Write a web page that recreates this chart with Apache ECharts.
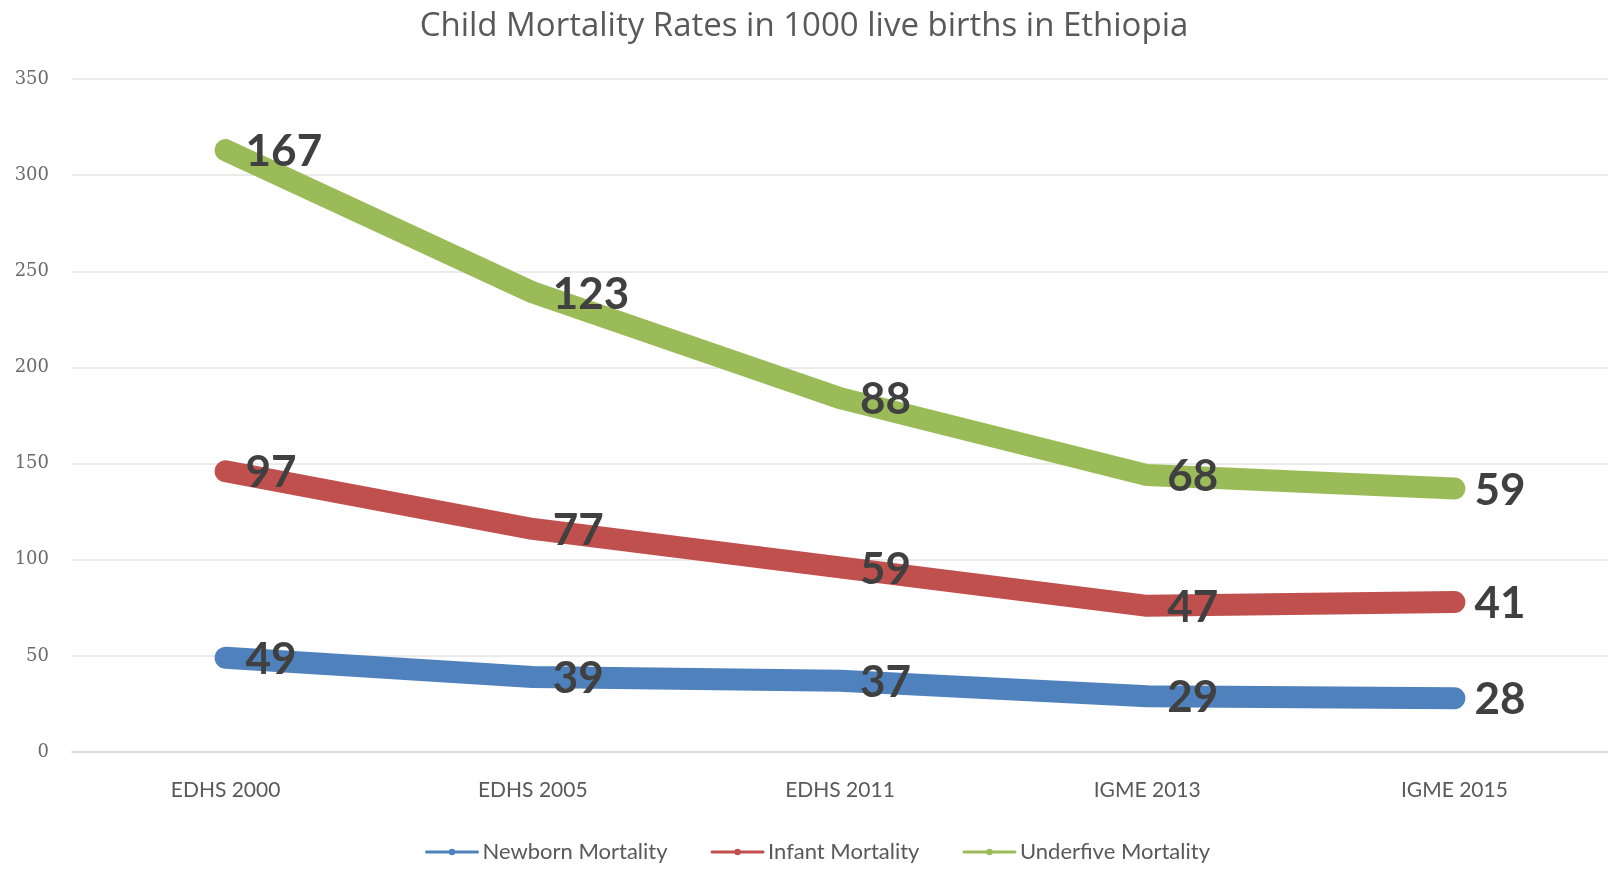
<!DOCTYPE html>
<html>
<head>
<meta charset="utf-8">
<script src="https://cdn.jsdelivr.net/npm/echarts@6/dist/echarts.min.js"></script>
<style>
  html, body { margin: 0; padding: 0; background: #fff; }
  #chart { width: 1608px; height: 869px; }
</style>
</head>
<body>
<div id="chart"></div>
<script>
const categories = ["EDHS 2000", "EDHS 2005", "EDHS 2011", "IGME 2013", "IGME 2015"];
// plotted (stacked) values as drawn in the picture
const newborn = [49, 39, 37, 29, 28];
const infant = [97, 77, 59, 47, 50];
const underfive = [167, 123, 88, 68, 59];
// label texts printed next to the points
const newbornLabels = ["49", "39", "37", "29", "28"];
const infantLabels = ["97", "77", "59", "47", "41"];
const underfiveLabels = ["167", "123", "88", "68", "59"];
const yTicks = { min: 0, max: 350, interval: 50 };

const chart = echarts.init(document.getElementById("chart"));

function lineSeries(name, color, data, labels) {
  return {
    name: name,
    type: "line",
    stack: "total",
    data: data,
    color: color,
    symbol: "circle",
    symbolSize: 4,
    lineStyle: { width: 22, color: color, cap: "round", join: "round" },
    itemStyle: { color: color },
    label: {
      show: true,
      position: "right",
      distance: 18,
      offset: [0, 2],
      fontFamily: "Lato",
      fontWeight: "bold",
      fontSize: 44,
      color: "#404040",
      formatter: (p) => labels[p.dataIndex],
    },
    emphasis: { disabled: true },
  };
}

const option = {
  backgroundColor: "#fff",
  animation: false,
  title: {
    text: "Child Mortality Rates in 1000 live births in Ethiopia",
    left: "center",
    top: 5,
    textStyle: {
      fontFamily: "Open Sans",
      fontWeight: "normal",
      fontSize: 33,
      color: "#595959",
    },
  },
  grid: {
    left: 72,
    right: 0,
    top: 79,
    bottom: 117,
  },
  legend: {
    bottom: 1,
    left: 420,
    itemWidth: 51,
    itemHeight: 8,
    itemGap: 43,
    lineStyle: { width: 3 },
    textStyle: {
      fontFamily: "Lato",
      fontSize: 22,
      color: "#595959",
    },
    data: ["Newborn Mortality", "Infant Mortality", "Underfive Mortality"],
  },
  xAxis: {
    type: "category",
    boundaryGap: true,
    data: categories,
    axisTick: { show: false },
    axisLine: { show: true, lineStyle: { color: "#d9d9d9", width: 1.5 } },
    axisLabel: {
      margin: 28,
      fontFamily: "Lato",
      fontSize: 21,
      color: "#595959",
    },
  },
  yAxis: {
    type: "value",
    min: yTicks.min,
    max: yTicks.max,
    interval: yTicks.interval,
    axisLine: { show: false },
    axisTick: { show: false },
    splitLine: { lineStyle: { color: "#e3e3e3", width: 1.5 } },
    axisLabel: {
      margin: 23,
      fontFamily: "DejaVu Serif",
      fontSize: 18,
      color: "#6a6a6a",
    },
  },
  series: [
    lineSeries("Newborn Mortality", "#4f81bd", newborn, newbornLabels),
    lineSeries("Infant Mortality", "#c0504d", infant, infantLabels),
    lineSeries("Underfive Mortality", "#9bbb59", underfive, underfiveLabels),
  ],
};

chart.setOption(option);
</script>
</body>
</html>
